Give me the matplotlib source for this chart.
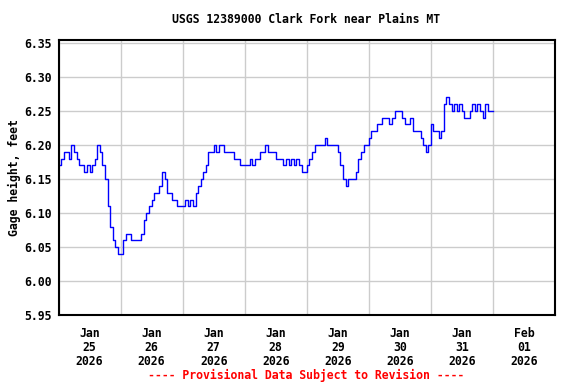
import numpy as np
import pandas as pd
import matplotlib
matplotlib.use("Agg")
import matplotlib.pyplot as plt

# gage height, hundredths of a foot, hourly from Jan 25 2026 00:00
gage_hundredths = [
    # Jan 25
    617, 618, 619, 619, 618, 620, 619, 618, 617, 617, 616, 617,
    616, 617, 618, 620, 619, 617, 615, 611, 608, 606, 605, 604,
    # Jan 26
    604, 606, 607, 607, 606, 606, 606, 606, 607, 609, 610, 611,
    612, 613, 613, 614, 616, 615, 613, 613, 612, 612, 611, 611,
    # Jan 27
    611, 612, 611, 612, 611, 613, 614, 615, 616, 617, 619, 619,
    620, 619, 620, 620, 619, 619, 619, 619, 618, 618, 617, 617,
    # Jan 28
    617, 617, 618, 617, 618, 618, 619, 619, 620, 619, 619, 619,
    618, 618, 618, 617, 618, 617, 618, 617, 618, 617, 616, 616,
    # Jan 29
    617, 618, 619, 620, 620, 620, 620, 621, 620, 620, 620, 620,
    619, 617, 615, 614, 615, 615, 615, 616, 618, 619, 620, 620,
    # Jan 30
    621, 622, 622, 623, 623, 624, 624, 624, 623, 624, 625, 625,
    625, 624, 623, 623, 624, 622, 622, 622, 621, 620, 619, 620,
    # Jan 31
    623, 622, 622, 621, 622, 626, 627, 626, 625, 626, 625, 626,
    625, 624, 624, 625, 626, 625, 626, 625, 624, 626, 625, 625,
    # Feb 01
    625,
]

times = pd.date_range("2026-01-25 00:00", periods=len(gage_hundredths), freq="h")
gage = np.array(gage_hundredths) / 100.0

day_labels = ["Jan\n25\n2026", "Jan\n26\n2026", "Jan\n27\n2026", "Jan\n28\n2026",
              "Jan\n29\n2026", "Jan\n30\n2026", "Jan\n31\n2026", "Feb\n01\n2026"]
y_ticks = [5.95, 6.00, 6.05, 6.10, 6.15, 6.20, 6.25, 6.30, 6.35]

font = "DejaVu Sans Mono"
fs = 8.3

fig = plt.figure(figsize=(5.76, 3.84), dpi=100)
ax = fig.add_axes([0.1016, 0.1784, 0.9635 - 0.1016, 0.8971 - 0.1784])

ax.plot(times, gage, color="#0000ff", linewidth=1.0, drawstyle="steps-post")

ax.set_xlim(pd.Timestamp("2026-01-25"), pd.Timestamp("2026-02-02"))
ax.set_ylim(5.95, 6.3545)

# gridlines at midnight, labels at noon
midnights = pd.date_range("2026-01-25", periods=9, freq="D")
noons = midnights[:-1] + pd.Timedelta(hours=12)
ax.set_xticks(midnights)
ax.set_xticklabels([])
ax.set_xticks(noons, minor=True)
ax.set_xticklabels(day_labels, minor=True, family=font, fontweight="bold",
                   fontsize=fs, linespacing=1.1)
ax.set_yticks(y_ticks)
ax.set_yticklabels([f"{v:.2f}" for v in y_ticks], family=font,
                   fontweight="bold", fontsize=fs)

ax.tick_params(axis="both", which="both", length=0)
ax.tick_params(axis="x", which="minor", pad=8)
ax.tick_params(axis="y", pad=5)

ax.grid(True, which="major", color="#cccccc", linewidth=1.0)
ax.set_axisbelow(True)
for s in ax.spines.values():
    s.set_linewidth(1.5)
    s.set_color("black")

ax.set_ylabel("Gage height, feet", family=font, fontweight="bold",
              fontsize=fs, labelpad=2)

fig.text(0.531, 0.948, "USGS 12389000 Clark Fork near Plains MT",
         ha="center", va="center", family=font, fontweight="bold", fontsize=fs)
fig.text(0.531, 0.023, "---- Provisional Data Subject to Revision ----",
         ha="center", va="center", family=font, fontweight="bold",
         fontsize=fs, color="red")

fig.savefig("out.png", dpi=100)
